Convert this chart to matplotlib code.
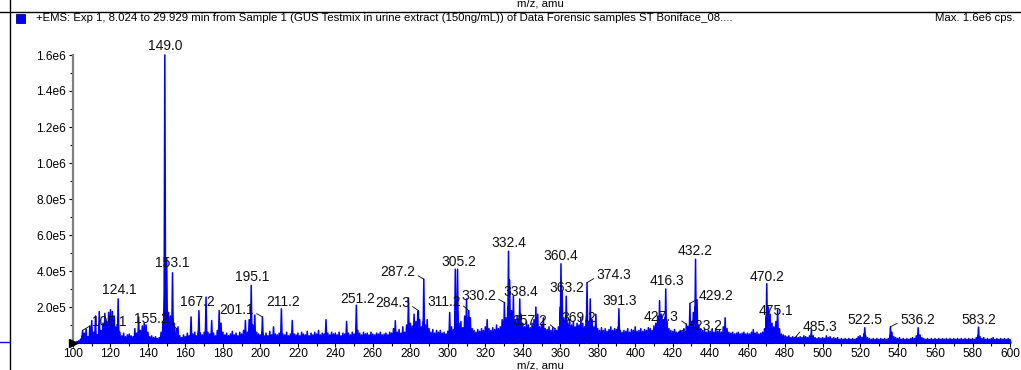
import numpy as np
import matplotlib
matplotlib.use("Agg")
import matplotlib.pyplot as plt
from matplotlib.lines import Line2D
from matplotlib.patches import Rectangle

plt.rcParams["font.family"] = ["Liberation Sans", "DejaVu Sans"]

W, H = 1021, 370

# background ion counts at each nominal mass, 100..600 amu (x 1e3 cps)
noise_start = 100
noise_kcps = [
    3, 5, 8, 12, 22, 40, 55, 78, 35, 95, 125, 60, 150, 45, 175, 70, 110, 165, 120, 170,
    185, 175, 150, 90, 120, 60, 40, 55, 35, 45, 50, 40, 35, 80, 55, 145, 70, 95, 110, 100,
    60, 35, 40, 30, 35, 25, 30, 60, 120, 300, 470, 170, 150, 140, 110, 50, 90, 40, 30, 45,
    35, 55, 40, 145, 50, 60, 40, 70, 55, 45, 60, 255, 60, 50, 125, 55, 40, 70, 180, 110,
    60, 45, 55, 40, 50, 65, 45, 55, 40, 60, 50, 70, 125, 60, 130, 150, 100, 155, 60, 50,
    45, 60, 40, 55, 40, 65, 45, 90, 50, 45, 55, 60, 50, 45, 60, 40, 50, 125, 50, 45,
    55, 40, 60, 50, 45, 65, 40, 55, 45, 60, 50, 70, 45, 55, 50, 130, 55, 45, 60, 50,
    55, 45, 60, 40, 55, 50, 120, 55, 45, 60, 50, 60, 70, 55, 45, 60, 50, 55, 45, 60,
    50, 45, 55, 50, 60, 45, 50, 55, 45, 60, 55, 80, 124, 60, 75, 55, 90, 60, 100, 250,
    110, 95, 160, 120, 175, 130, 90, 120, 100, 130, 80, 60, 75, 55, 70, 60, 70, 55, 60, 50,
    65, 170, 90, 75, 410, 200, 110, 120, 85, 150, 245, 100, 140, 80, 70, 60, 75, 65, 80, 70,
    90, 130, 80, 70, 85, 75, 100, 80, 90, 130, 120, 140, 200, 350, 180, 260, 130, 150, 130, 160,
    110, 90, 120, 100, 85, 110, 130, 200, 160, 90, 100, 140, 80, 75, 90, 70, 85, 60, 70, 90,
    200, 290, 140, 150, 110, 130, 100, 120, 90, 110, 100, 140, 110, 90, 150, 120, 245, 130, 90, 160,
    80, 70, 85, 70, 80, 65, 75, 90, 70, 80, 75, 90, 70, 60, 70, 65, 80, 60, 75, 70,
    90, 65, 70, 80, 65, 75, 70, 85, 80, 70, 95, 110, 150, 235, 160, 130, 140, 120, 80, 70,
    65, 75, 60, 55, 70, 65, 80, 60, 90, 100, 120, 170, 200, 240, 100, 80, 70, 75, 60, 70,
    65, 75, 60, 80, 65, 70, 60, 90, 140, 80, 60, 55, 60, 50, 55, 60, 50, 55, 60, 50,
    55, 50, 60, 75, 55, 60, 50, 55, 60, 80, 150, 200, 160, 110, 90, 100, 185, 80, 50, 45,
    40, 35, 40, 30, 35, 30, 35, 30, 35, 30, 40, 35, 30, 40, 70, 40, 30, 25, 30, 25,
    30, 25, 40, 30, 35, 25, 30, 25, 30, 20, 25, 20, 25, 20, 25, 20, 25, 20, 25, 35,
    40, 30, 50, 40, 30, 25, 20, 25, 20, 25, 20, 25, 20, 25, 20, 25, 40, 60, 35, 30,
    25, 30, 20, 25, 20, 25, 20, 25, 30, 25, 40, 85, 45, 30, 25, 20, 25, 20, 25, 20,
    25, 20, 25, 20, 25, 20, 25, 20, 25, 20, 25, 20, 25, 20, 25, 20, 25, 20, 25, 20,
    25, 20, 30, 40, 35, 25, 30, 20, 25, 20, 25, 30, 20, 25, 20, 25, 20, 25, 20, 25,
    20,
]

# labelled centroid peaks
peak_mz = [105.1, 124.1, 149.0, 153.1, 155.2, 167.2, 195.1, 201.1, 211.2, 251.2,
           284.3, 287.2, 305.2, 311.2, 330.2, 332.4, 338.4, 357.2, 360.4, 363.2,
           369.2, 374.3, 391.3, 416.3, 423.2, 427.3, 429.2, 432.2, 470.2, 475.1,
           485.3, 522.5, 536.2, 583.2]
peak_cps = [7.0e4, 2.45e5, 1.6e6, 3.9e5, 8.0e4, 1.8e5, 3.2e5, 1.45e5, 1.9e5, 2.1e5,
            1.8e5, 3.55e5, 4.1e5, 1.8e5, 2.25e5, 5.1e5, 2.45e5, 8.0e4, 4.4e5, 2.6e5,
            9.5e4, 3.35e5, 1.9e5, 3.0e5, 6.0e4, 1.05e5, 2.2e5, 4.65e5, 3.3e5, 1.2e5,
            3.0e4, 8.5e4, 9.0e4, 8.8e4]

# label offsets from the peak top in pixels; a leader line is drawn for side labels
label_dx = [27, 1, 0, 0, -25, -2, 1, -26, 2, 1,
            -26, -26, 1, -25, -26, 0, 1, -25, 0, 1,
            1, 27, 1, 1, 26, -25, 26, 0, 0, 0,
            25, 0, 27, 0]
label_dy = [8, 9, 9, 10, 10, 9, 8, 7, 7, 6,
            8, 7, 7, 9, 7, 8, 7, 8, 8, 8,
            8, 8, 8, 8, 6, 7, 7, 8, 7, 10,
            11, 8, 7, 7]

y_ticks = [2e5, 4e5, 6e5, 8e5, 1.0e6, 1.2e6, 1.4e6, 1.6e6]
y_tick_labels = ["2.0e5", "4.0e5", "6.0e5", "8.0e5", "1.0e6", "1.2e6", "1.4e6", "1.6e6"]
x_ticks = list(range(100, 601, 20))

header = ("+EMS: Exp 1, 8.024 to 29.929 min from Sample 1 (GUS Testmix in urine extract "
          "(150ng/mL)) of Data Forensic samples ST Boniface_08....")
max_text = "Max. 1.6e6 cps."
axis_title = "m/z, amu"

BLUE = "#0000FF"

fig = plt.figure(figsize=(W / 100, H / 100), dpi=100)
ax = fig.add_axes([73 / W, 1 - 343 / H, 937 / W, 288 / H])

# every centroid as a narrow profile peak
peaks = [(noise_start + i, v * 1e3) for i, v in enumerate(noise_kcps)]
peaks += list(zip(peak_mz, peak_cps))
peaks.sort()
half = 0.45
xs, ys = [], []
for m, c in peaks:
    xs += [m - half, m, m + half]
    ys += [0, c, 0]
ax.plot(xs, ys, color=BLUE, lw=1.1, zorder=3, clip_on=False)

ax.set_xlim(100, 600)
ax.set_ylim(0, 1.6e6)

# annotate labelled peaks
for m, c, dx, dy in zip(peak_mz, peak_cps, label_dx, label_dy):
    kw = {}
    if abs(dx) > 10:
        kw["arrowprops"] = dict(arrowstyle="-", lw=0.6, color="black",
                                shrinkA=0, shrinkB=0,
                                relpos=(1, 0.35) if dx < 0 else (0, 0.35))
    ax.annotate(f"{m:.1f}", xy=(m, c), xytext=(dx, dy), textcoords="offset pixels",
                ha="center", va="center", fontsize=10, color="#111111",
                zorder=4, annotation_clip=False, **kw)

ax.set_yticks(y_ticks)
ax.set_yticklabels(y_tick_labels)
ax.set_yticks(np.arange(1e5, 1.6e6, 2e5), minor=True)
ax.set_xticks(x_ticks)
ax.set_xticks(range(110, 600, 20), minor=True)
ax.tick_params(axis="both", which="major", labelsize=8.6, length=3, width=0.8,
               pad=2, colors="black")
ax.tick_params(axis="x", which="major", pad=0.5)
ax.tick_params(axis="both", which="minor", length=2, width=0.8)

for s in ("top", "right"):
    ax.spines[s].set_visible(False)
ax.spines["left"].set_color("#808080")
ax.spines["left"].set_linewidth(1.6)
ax.spines["bottom"].set_color("black")
ax.spines["bottom"].set_linewidth(0.8)
ax.patch.set_alpha(0)

# start-of-range marker on the mass axis
ax.plot([100], [0], marker=">", color="black", ms=6, clip_on=False, zorder=5)

# pane frame, header strip and legend
fig.add_artist(Line2D([0, 1], [1 - 12 / H, 1 - 12 / H], color="black", lw=1.0))
fig.add_artist(Line2D([10 / W, 10 / W], [0, 1], color="black", lw=1.0))
fig.add_artist(Line2D([0, 9 / W], [1 - 342 / H, 1 - 342 / H], color=BLUE, lw=1.0))
fig.text(540 / W, 1 - 3 / H, axis_title, ha="center", va="center", fontsize=8.2)
fig.text(540 / W, 1 - 365 / H, axis_title, ha="center", va="center", fontsize=8.2)
fig.add_artist(Rectangle((16 / W, 1 - 23 / H), 9 / W, 9 / H, facecolor=BLUE,
                         edgecolor="#000080", lw=0.6))
fig.text(36 / W, 1 - 18 / H, header, ha="left", va="center", fontsize=8.2)
fig.text(1015 / W, 1 - 18 / H, max_text, ha="right", va="center", fontsize=8.2)

fig.savefig("out.png", dpi=100)
